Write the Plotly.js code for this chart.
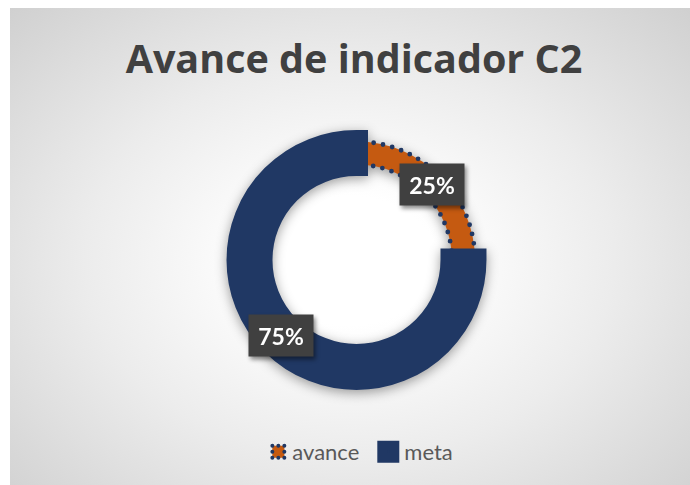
<!DOCTYPE html>
<html><head><meta charset="utf-8">
<script src="https://cdn.plot.ly/plotly-3.0.1.min.js"></script>
<style>
html,body{margin:0;padding:0;background:#fff;}
#chart{width:690px;height:485px;position:relative;background:#fff;overflow:hidden;}
#panel{position:absolute;left:10px;top:8px;right:0;bottom:0;
 background: radial-gradient(ellipse farthest-corner at 50% 53%, #ffffff 0%, #ffffff 18%, #ececec 55%, #d0d0d0 100%);}
#plot{position:absolute;left:0;top:0;width:690px;height:485px;}
.pielayer{filter: drop-shadow(0px 3px 6px rgba(0,0,0,0.38));}
.annotation{filter: drop-shadow(2px 3px 2px rgba(0,0,0,0.45));}
</style></head>
<body><div id="chart"><div id="panel"></div><div id="plot"></div></div>
<script>
// ---- data ----
const categories = ['avance', 'meta'];
const values = [25, 75];
const percentLabels = ['25%', '75%'];
const sliceColors = ['#C55A11', '#203864'];
const chartTitle = 'Avance de indicador C2';

// ---- layout constants ----
const W = 690, H = 485;
const domX = [0.3449, 0.6884];
const domY = [0.2196, 0.7082];
const labelRadiusFrac = 107 / 118.5; // label distance relative to pie radius

const total = values.reduce((a, b) => a + b, 0);
const cxPx = W * (domX[0] + domX[1]) / 2;
const cyPx = H * (1 - (domY[0] + domY[1]) / 2);
const rPx = Math.min(W * (domX[1] - domX[0]), H * (domY[1] - domY[0])) / 2;

let cum = 0;
const annotations = values.map((v, i) => {
  const mid = (cum + v / 2) / total * 2 * Math.PI;
  cum += v;
  const xp = cxPx + rPx * labelRadiusFrac * Math.sin(mid);
  const yp = cyPx - rPx * labelRadiusFrac * Math.cos(mid);
  return {
    x: xp / W, y: 1 - yp / H, xref: 'paper', yref: 'paper',
    text: percentLabels[i], showarrow: false,
    xanchor: 'center', yanchor: 'middle',
    font: {family: 'Lato, sans-serif', size: 23, color: '#ffffff', weight: 'bold'},
    bgcolor: '#404040', width: 56, height: 33, borderpad: 4
  };
});

const trace = {
  type: 'pie', labels: categories, values: values,
  sort: false, direction: 'clockwise', rotation: 0,
  hole: 0.806,
  marker: {colors: sliceColors, line: {color: '#203864', width: [4.8, 23]}},
  textinfo: 'none', hoverinfo: 'skip',
  domain: {x: domX, y: domY}
};

const layout = {
  width: W, height: H,
  margin: {l: 0, r: 0, t: 0, b: 0},
  paper_bgcolor: 'rgba(0,0,0,0)', plot_bgcolor: 'rgba(0,0,0,0)',
  title: {
    text: chartTitle, x: 0.513, xanchor: 'center', y: 0.879, yanchor: 'middle',
    xref: 'paper', yref: 'paper',
    font: {family: '"Open Sans", sans-serif', size: 39.5, color: '#404040', weight: 'bold'}
  },
  showlegend: true,
  legend: {
    orientation: 'h', x: 0.515, xanchor: 'center', y: 0.068, yanchor: 'middle',
    font: {family: 'Lato, sans-serif', size: 22, color: '#595959'},
    bgcolor: 'rgba(0,0,0,0)', itemwidth: 30
  },
  annotations: annotations
};

Plotly.newPlot('plot', [trace], layout, {staticPlot: true}).then(gd => {
  const surf = gd.querySelectorAll('.pielayer .slice path.surface');
  if (surf.length > 1) {
    surf[0].style.strokeDasharray = '0 9.5';
    surf[0].style.strokeLinecap = 'round';
    surf[1].style.strokeLinejoin = 'miter';
  }
  const leg = gd.querySelectorAll('.legend path.legendpie');
  if (leg.length > 1) {
    leg[0].style.strokeDasharray = '0 6';
    leg[0].style.strokeLinecap = 'round';
    leg[0].style.strokeWidth = '4';
    leg[0].setAttribute('transform', 'translate(26,0)');
    leg[1].style.strokeWidth = '10';
    leg[1].style.strokeLinejoin = 'miter';
    leg[1].setAttribute('transform', 'translate(24,0)');
  }
});
</script>
</body></html>
